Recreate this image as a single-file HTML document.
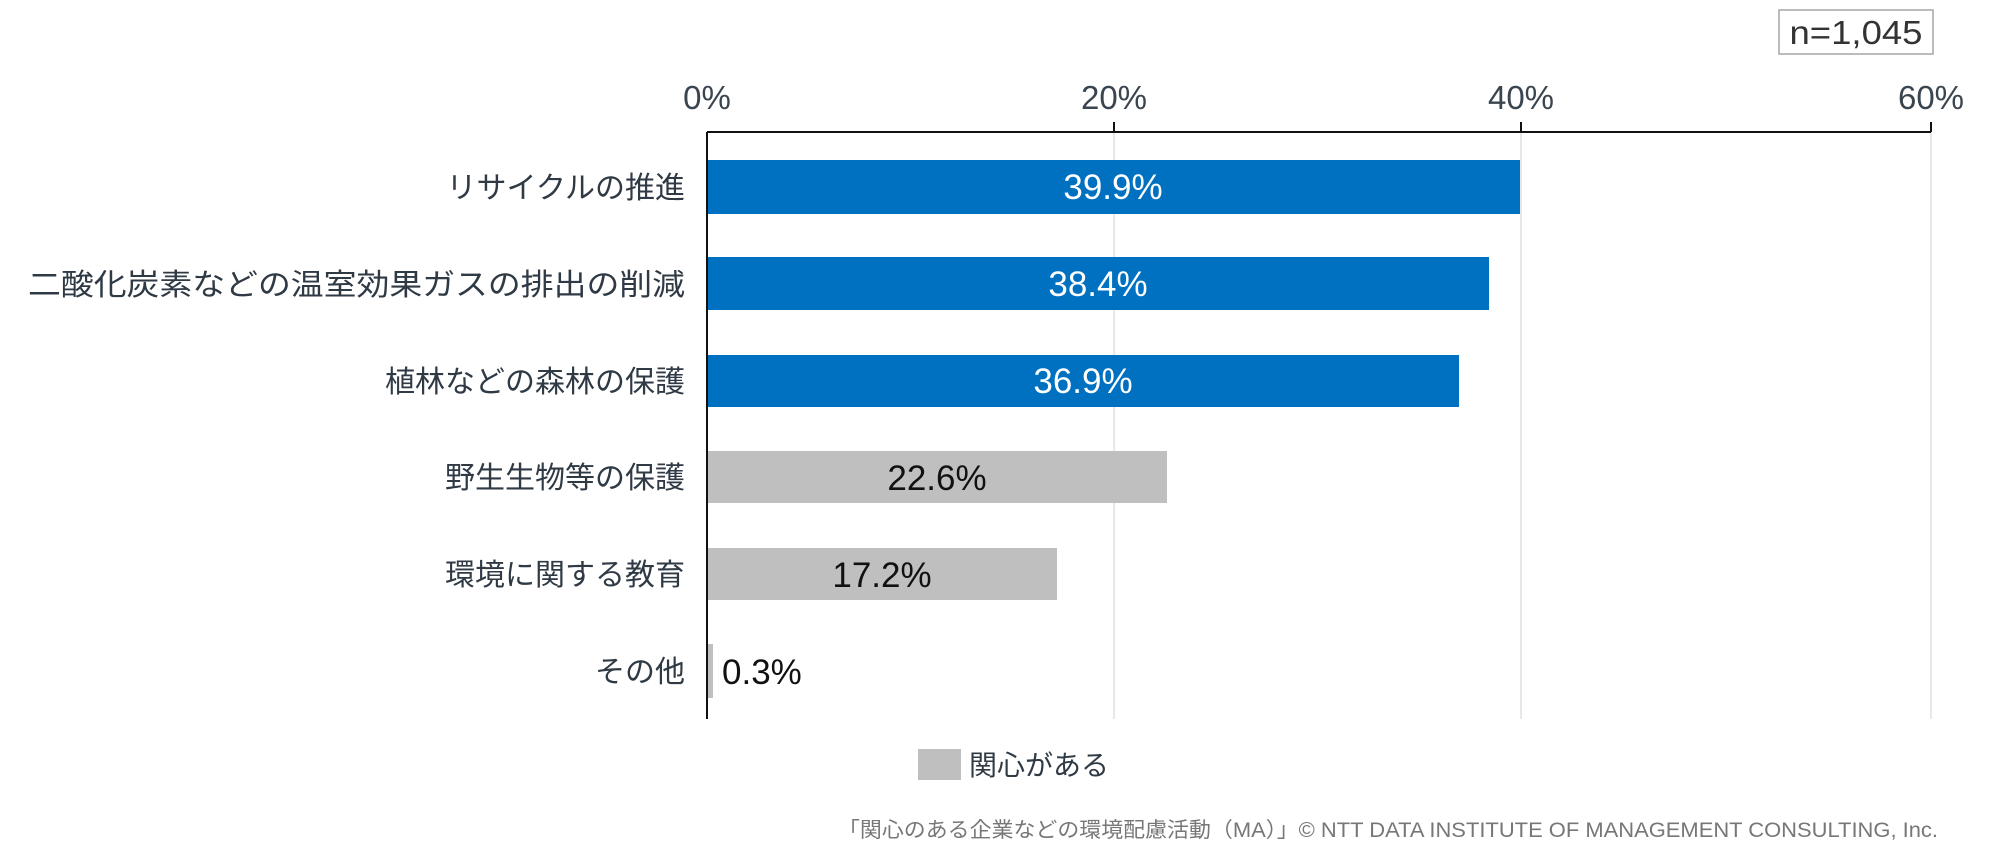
<!DOCTYPE html>
<html><head><meta charset="utf-8"><style>
html,body{margin:0;padding:0;background:#fff;}
svg text{font-family:"Liberation Sans","Noto Sans CJK JP",sans-serif;}
</style></head><body>
<svg width="2006" height="857" viewBox="0 0 2006 857" xmlns="http://www.w3.org/2000/svg">
<rect width="2006" height="857" fill="#fff"/>
<rect x="1779" y="10" width="154" height="44" fill="#fff" stroke="#a6a6a6" stroke-width="1.5"/>
<text x="1856" y="44" font-size="33" text-anchor="middle" fill="#333" textLength="133" lengthAdjust="spacingAndGlyphs">n=1,045</text>
<g stroke="#e0e0e0" stroke-width="1.5">
<line x1="1114" y1="132" x2="1114" y2="719"/>
<line x1="1521" y1="132" x2="1521" y2="719"/>
<line x1="1931" y1="132" x2="1931" y2="719"/>
</g>
<g font-size="33" fill="#3b4550" text-anchor="middle">
<text x="707" y="109">0%</text><text x="1114" y="109">20%</text><text x="1521" y="109">40%</text><text x="1931" y="109">60%</text>
</g>
<g fill="#0070C0">
<rect x="707" y="160" width="813" height="54"/>
<rect x="707" y="257" width="782" height="53"/>
<rect x="707" y="355" width="752" height="52"/>
</g>
<g fill="#BFBFBF">
<rect x="707" y="451" width="460" height="52"/>
<rect x="707" y="548" width="350" height="52"/>
<rect x="707" y="644" width="6" height="54"/>
</g>
<g stroke="#111" stroke-width="2" fill="none">
<line x1="707" y1="132" x2="1931" y2="132"/>
<line x1="707" y1="132" x2="707" y2="719"/>
<line x1="1114" y1="122" x2="1114" y2="132"/>
<line x1="1521" y1="122" x2="1521" y2="132"/>
<line x1="1931" y1="122" x2="1931" y2="132"/>
</g>
<g font-size="35" text-anchor="middle">
<text x="1113" y="199" fill="#fff">39.9%</text>
<text x="1098" y="296" fill="#fff">38.4%</text>
<text x="1083" y="393" fill="#fff">36.9%</text>
<text x="937" y="490" fill="#111">22.6%</text>
<text x="882" y="587" fill="#111">17.2%</text>
<text x="722" y="684" fill="#111" text-anchor="start">0.3%</text>
</g>
<g font-size="30" fill="#2f3a45" text-anchor="end">
<text x="685" y="198">リサイクルの推進</text>
<text x="685" y="295" textLength="657" lengthAdjust="spacingAndGlyphs">二酸化炭素などの温室効果ガスの排出の削減</text>
<text x="685" y="392">植林などの森林の保護</text>
<text x="685" y="488">野生生物等の保護</text>
<text x="685" y="585">環境に関する教育</text>
<text x="685" y="682">その他</text>
</g>
<rect x="918" y="749" width="43" height="31" fill="#BFBFBF"/>
<text x="969" y="775" font-size="28" fill="#2f3a45">関心がある</text>
<text x="1938" y="837" font-size="21" fill="#777" text-anchor="end" textLength="1100" lengthAdjust="spacingAndGlyphs">「関心のある企業などの環境配慮活動（MA）」© NTT DATA INSTITUTE OF MANAGEMENT CONSULTING, Inc.</text>
</svg>
</body></html>
